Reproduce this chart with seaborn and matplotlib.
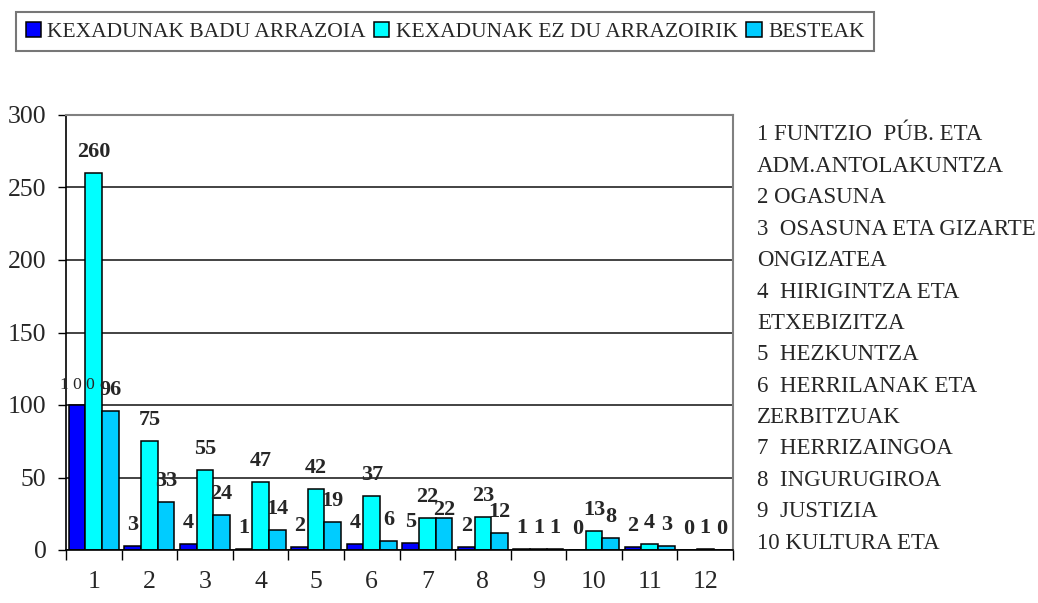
import pandas as pd
import numpy as np
import matplotlib.pyplot as plt
import seaborn as sns

# ── data ──────────────────────────────────────────────────────────────────────
GROUPS  = ["1", "2", "3", "4", "5", "6", "7", "8", "9", "10", "11", "12"]
SERIES  = ["KEXADUNAK BADU ARRAZOIA", "KEXADUNAK EZ DU ARRAZOIRIK", "BESTEAK"]
badu    = [100, 3, 4, 1, 2, 4, 5, 2, 1, 0, 2, 0]
ez_du   = [260, 75, 55, 47, 42, 37, 22, 23, 1, 13, 4, 1]
besteak = [96, 33, 24, 14, 19, 6, 22, 12, 1, 8, 3, 0]
COLORS  = ["#0000FF", "#00FFFF", "#00CCFF"]

SIDE_TEXT = [
    "1 FUNTZIO  PÚB. ETA",
    "ADM.ANTOLAKUNTZA",
    "2 OGASUNA",
    "3  OSASUNA ETA GIZARTE",
    "ONGIZATEA",
    "4  HIRIGINTZA ETA",
    "ETXEBIZITZA",
    "5  HEZKUNTZA",
    "6  HERRILANAK ETA",
    "ZERBITZUAK",
    "7  HERRIZAINGOA",
    "8  INGURUGIROA",
    "9  JUSTIZIA",
    "10 KULTURA ETA",
]

df = pd.DataFrame({
    "group":  GROUPS * 3,
    "series": np.repeat(SERIES, len(GROUPS)),
    "value":  badu + ez_du + besteak,
})

# ── style ─────────────────────────────────────────────────────────────────────
sns.set_style("white")
plt.rcParams["font.family"] = ["Liberation Serif", "DejaVu Serif"]

W, H = 1038, 603
fig = plt.figure(figsize=(W / 100, H / 100), dpi=100)
ax = fig.add_axes([66 / W, 1 - 550 / H, (733 - 66) / W, (550 - 115) / H])

sns.barplot(data=df, x="group", y="value", hue="series", palette=COLORS,
            width=0.9, gap=0, saturation=1, edgecolor="black", linewidth=1.1,
            ax=ax)

# value labels (a label equal to its left neighbour drops lower, like the original)
for k, cont in enumerate(ax.containers):
    prev = ax.containers[k - 1] if k > 0 else None
    for j, bar in enumerate(cont):
        v = bar.get_height()
        xc = bar.get_x() + bar.get_width() / 2
        dy = 11.5
        if prev is not None and prev[j].get_height() == v and v > 9:
            dy = 2
        if v == 100:
            ax.annotate("1 0 0", (xc, v), xytext=(0, dy), textcoords="offset points",
                        ha="center", va="baseline", fontsize=12.5)
        else:
            ax.annotate(f"{int(v)}", (xc, v), xytext=(0, dy), textcoords="offset points",
                        ha="center", va="baseline", fontsize=16, fontweight="bold")

# axes
ax.set_xlim(-0.5, 11.5)
ax.set_ylim(0, 300)
ax.set_yticks(range(0, 301, 50))
ax.set_xlabel("")
ax.set_ylabel("")
ax.yaxis.grid(True, color="#222222", linewidth=1.2)
ax.set_axisbelow(True)
ax.tick_params(axis="y", length=6, width=1, color="black", pad=8, labelsize=18.5,
               direction="out", left=True)
ax.set_xticks(np.arange(-0.5, 12, 1), minor=True)
ax.tick_params(axis="x", which="major", length=0, pad=15, labelsize=18.5)
ax.tick_params(axis="x", which="minor", length=7, width=1, color="black",
               direction="out", bottom=True)
for s in ["left", "bottom"]:
    ax.spines[s].set_color("black")
    ax.spines[s].set_linewidth(1.2)
for s in ["top", "right"]:
    ax.spines[s].set_color("#808080")
    ax.spines[s].set_linewidth(1.5)

# legend on top
handles, labels = ax.get_legend_handles_labels()
ax.legend_.remove()
leg = fig.legend(handles, labels, loc="upper left", ncol=3,
                 bbox_to_anchor=(16 / W, 1 - 12 / H), borderaxespad=0, fontsize=15.5,
                 frameon=True, fancybox=False, borderpad=0.45,
                 handlelength=0.7, handleheight=0.7, handletextpad=0.3,
                 columnspacing=0.4)
leg.get_frame().set_edgecolor("#555555")
leg.get_frame().set_linewidth(1.5)

# category list on the right
for i, line in enumerate(SIDE_TEXT):
    fig.text(757 / W, 1 - (135 + 31.4 * i) / H, line, fontsize=16.5,
             ha="left", va="center")

fig.savefig("out.png", dpi=100)
